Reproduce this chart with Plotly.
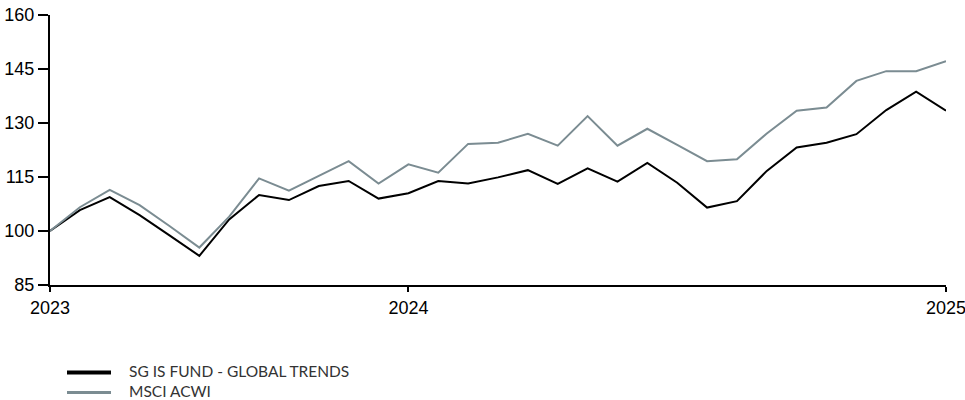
import plotly.graph_objects as go

# period index (monthly observations)
periods = list(range(31))
tick_positions = [0, 12, 30]
tick_labels = ["2023", "2024", "2025"]

fund_name = "SG IS FUND - GLOBAL TRENDS"
bench_name = "MSCI ACWI"
fund_color = "#000000"
bench_color = "#7b8c92"

fund_values = [100.0, 105.8, 109.4, 104.4, 98.8, 93.1, 103.2, 110.0, 108.6, 112.5,
               113.9, 109.0, 110.5, 113.9, 113.2, 114.9, 116.9, 113.1, 117.4, 113.7,
               118.9, 113.4, 106.5, 108.3, 116.7, 123.2, 124.5, 126.9, 133.6, 138.7,
               133.4]
bench_values = [100.0, 106.6, 111.4, 107.2, 101.4, 95.4, 104.0, 114.6, 111.2, 115.3,
                119.4, 113.2, 118.5, 116.2, 124.2, 124.5, 127.0, 123.7, 131.9, 123.7,
                128.4, 123.9, 119.4, 119.9, 127.1, 133.4, 134.3, 141.7, 144.4, 144.4,
                147.2]

y_ticks = [85, 100, 115, 130, 145, 160]

fig = go.Figure()
fig.add_trace(go.Scatter(x=periods, y=fund_values, mode="lines", name=fund_name,
                         line=dict(color=fund_color, width=2), showlegend=False))
fig.add_trace(go.Scatter(x=periods, y=bench_values, mode="lines", name=bench_name,
                         line=dict(color=bench_color, width=2), showlegend=False))

# legend drawn below the chart (swatch + label); positions relative to plot area
legend_items = [(fund_name, fund_color, 4, 372.5), (bench_name, bench_color, 3, 392.5)]
for name, color, lw, ypx in legend_items:
    fig.add_shape(type="line", xref="paper", yref="paper",
                  x0=(67 - 50) / 896, x1=(111 - 50) / 896,
                  y0=(285 - ypx) / 270, y1=(285 - ypx) / 270,
                  line=dict(color=color, width=lw))
    fig.add_annotation(text=name, xref="paper", yref="paper",
                       x=(127 - 50) / 896, y=(285 - ypx + 1.5) / 270,
                       xanchor="left", yanchor="middle", showarrow=False,
                       font=dict(family="Lato", size=15.5, color="#333333"))

fig.update_layout(
    width=965, height=400,
    margin=dict(l=50, r=19, t=15, b=115),
    paper_bgcolor="white", plot_bgcolor="white",
    showlegend=False,
    xaxis=dict(range=[0, 30], tickvals=tick_positions, ticktext=tick_labels,
               showline=True, linecolor="black", linewidth=2, ticks="outside",
               ticklen=5, tickwidth=2, tickcolor="black", showgrid=False, zeroline=False,
               tickfont=dict(family="Liberation Sans, Arial", size=18, color="black"),
               ticklabeloverflow="allow",
               automargin=False, fixedrange=True),
    yaxis=dict(range=[85, 160], tickvals=y_ticks, showline=True, linecolor="black",
               linewidth=2, ticks="outside", ticklen=10, tickwidth=2, tickcolor="black",
               showgrid=False, zeroline=False,
               tickfont=dict(family="Liberation Sans, Arial", size=18, color="black"),
               ticklabeloverflow="allow",
               automargin=False, fixedrange=True),
)

fig.write_html("out.html",
               config={"displayModeBar": False},
               post_script="document.body.style.margin='0';document.body.style.overflow='hidden';")
